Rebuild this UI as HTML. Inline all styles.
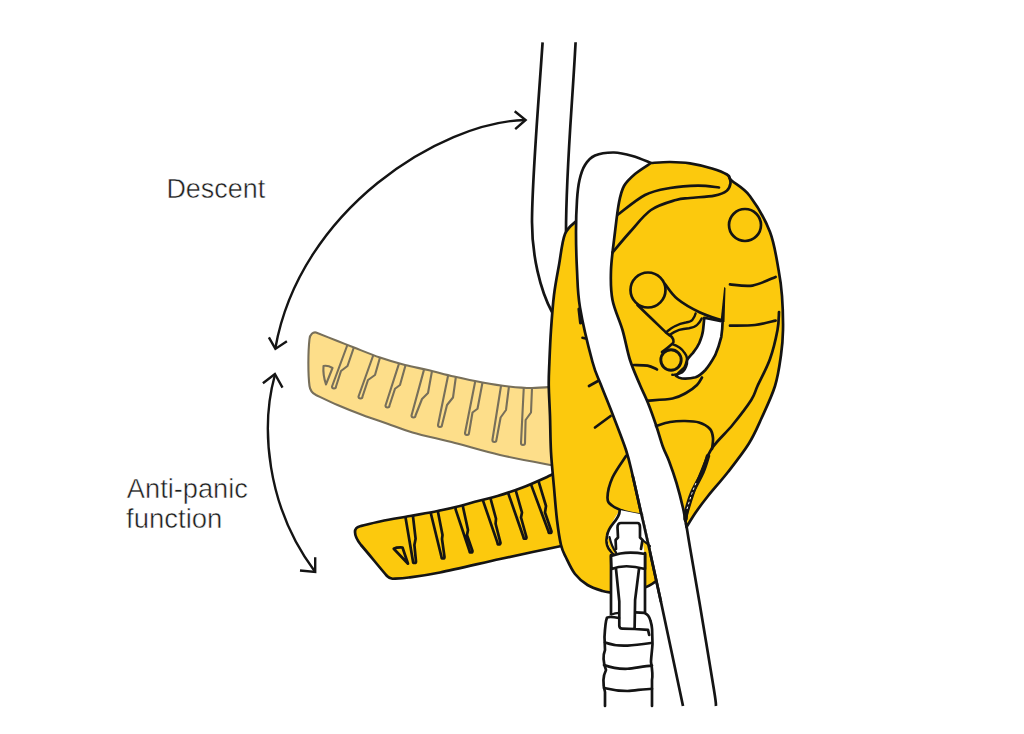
<!DOCTYPE html>
<html><head><meta charset="utf-8">
<style>
html,body{margin:0;padding:0;background:#fff;}
body{width:1024px;height:734px;overflow:hidden;position:relative;}
svg{position:absolute;left:0;top:0;}
.t{font-family:"Liberation Sans",sans-serif;font-size:28.4px;fill:#1e1e1e;stroke:#fff;stroke-width:0.5px;}
</style></head>
<body>
<svg width="1024" height="734" viewBox="0 0 1024 734">
<g fill="none" stroke="#141414" stroke-width="2.4" stroke-linecap="butt" stroke-linejoin="miter">
  <path d="M525,120 C440,122 300,210 275.4,348"/>
  <path d="M514.7,111.25 L525.6,120 L515.2,129.2"/>
  <path d="M268.9,337.4 L275.4,348.9 L286.9,341.25"/>
  <path d="M274.9,375 C261,425 265,505 315.2,572"/>
  <path d="M262.9,383.2 L274.9,374 L282.5,387.6"/>
  <path d="M300,570.5 L315.2,572 L315.2,557.25"/>
</g>
<text class="t" x="166.4" y="197.5" textLength="98.9" lengthAdjust="spacingAndGlyphs">Descent</text>
<text class="t" x="126.85" y="497.5" textLength="121.07" lengthAdjust="spacingAndGlyphs">Anti-panic</text>
<text class="t" x="126.1" y="527.5" textLength="96.3" lengthAdjust="spacingAndGlyphs">function</text>

<defs><clipPath id="cfh"><path d="M316,332.5 C319.58,333.92 331.17,338.5 337.5,341 C343.83,343.5 346.92,344.75 354,347.5 C361.08,350.25 371.5,354.58 380,357.5 C388.5,360.42 397,362.92 405,365 C413,367.08 419.83,368.08 428,370 C436.17,371.92 444.92,374.42 454,376.5 C463.08,378.58 473.38,380.83 482.5,382.5 C491.62,384.17 500.5,385.58 508.75,386.5 C517,387.42 524.12,388 532,388 C539.88,388 552,386.75 556,386.5 L556,466 C546.67,464.17 516.83,458.83 500,455 C483.17,451.17 469.58,446.75 455,443 C440.42,439.25 423.75,435.71 412.5,432.5 C401.25,429.29 395.83,426.67 387.5,423.75 C379.17,420.83 370.83,418.12 362.5,415 C354.17,411.88 345.25,408.33 337.5,405 C329.75,401.67 319.58,396.67 316,395 C312,393 310,390 309.5,386 C308,375 308,352 309.5,339 C310,334 313,332 316,332.5 Z"/></clipPath>
<clipPath id="cdh"><path id="dhp" d="M360,526.25 C363.5,525.42 372.67,522.96 381,521.25 C389.33,519.54 400.58,517.71 410,516 C419.42,514.29 429.17,512.67 437.5,511 C445.83,509.33 453.25,507.67 460,506 C466.75,504.33 471.75,502.67 478,501 C484.25,499.33 490.08,498.25 497.5,496 C504.92,493.75 513.75,490.9 522.5,487.5 C531.25,484.1 542.75,478.85 550,475.6 C557.25,472.35 563.33,469.27 566,468 L566,545 C561.25,546 548.5,548.67 537.5,551 C526.5,553.33 516.25,555.42 500,559 C483.75,562.58 455.21,569.42 440,572.5 C424.79,575.58 416.67,576.46 408.75,577.5 C400.83,578.54 395.21,578.54 392.5,578.75 C389,578 388,577 387,576 C380,568 368,553 361,545 C357,540 355,536 355,532 C355,529 357,527 360,526.25 Z"/></clipPath></defs>
<g fill="#fdde8a" stroke="#776f5a" stroke-width="2.1" stroke-linejoin="round" stroke-linecap="round">
  <path d="M316,332.5 C319.58,333.92 331.17,338.5 337.5,341 C343.83,343.5 346.92,344.75 354,347.5 C361.08,350.25 371.5,354.58 380,357.5 C388.5,360.42 397,362.92 405,365 C413,367.08 419.83,368.08 428,370 C436.17,371.92 444.92,374.42 454,376.5 C463.08,378.58 473.38,380.83 482.5,382.5 C491.62,384.17 500.5,385.58 508.75,386.5 C517,387.42 524.12,388 532,388 C539.88,388 552,386.75 556,386.5 L556,466 C546.67,464.17 516.83,458.83 500,455 C483.17,451.17 469.58,446.75 455,443 C440.42,439.25 423.75,435.71 412.5,432.5 C401.25,429.29 395.83,426.67 387.5,423.75 C379.17,420.83 370.83,418.12 362.5,415 C354.17,411.88 345.25,408.33 337.5,405 C329.75,401.67 319.58,396.67 316,395 C312,393 310,390 309.5,386 C308,375 308,352 309.5,339 C310,334 313,332 316,332.5 Z"/>
  <path fill="none" d="M323.5,366 C326,365.5 330,366.5 332.5,368 L326,384.4 C324.5,380 323,372 323.5,366 Z"/>
  <path fill="none" clip-path="url(#cfh)" d="M347,343 L347,346 L332,386.5 A2,2 0 0 0 336,386.5 L341,371 L347.5,366 L354,347 L354,344 M373,353 L373,356 L358.5,396.5 A2,2 0 0 0 362.5,396.5 L368,380 L375,375 L380,357.5 L380,354.5 M398.75,361.4 L398.75,364.4 L385.5,405.5 A2,2 0 0 0 389.5,405.5 L395,388.75 L400,385 L405.6,365 L405.6,362 M423.75,367.6 L423.75,370.6 L411.5,415.5 A2,2 0 0 0 415.5,415.5 L422,399 L428,393 L432,371 L432,368 M448,373 L448,376 L438,425 A2,2 0 0 0 442,425 L447,405 L453,397.5 L456,376 L456,373 M475,379.5 L475,382.5 L465,433 A2,2 0 0 0 469,433 L472.5,412.5 L477.5,408.75 L482.5,382.5 L482.5,379.5 M501,383 L501,386 L492.4,440 A2,2 0 0 0 496.4,440 L500.6,417.5 L506,410 L509,386 L509,383 M523.75,385 L523.75,388 L521,443 A2,2 0 0 0 525,443 L525.6,420 L531,412.5 L532,388 L532,385"/>
</g>

<g fill="#fcc90d" stroke="#141414" stroke-width="2.7" stroke-linejoin="round" stroke-linecap="round">
  <path d="M360,526.25 C363.5,525.42 372.67,522.96 381,521.25 C389.33,519.54 400.58,517.71 410,516 C419.42,514.29 429.17,512.67 437.5,511 C445.83,509.33 453.25,507.67 460,506 C466.75,504.33 471.75,502.67 478,501 C484.25,499.33 490.08,498.25 497.5,496 C504.92,493.75 513.75,490.9 522.5,487.5 C531.25,484.1 542.75,478.85 550,475.6 C557.25,472.35 563.33,469.27 566,468 L566,545 C561.25,546 548.5,548.67 537.5,551 C526.5,553.33 516.25,555.42 500,559 C483.75,562.58 455.21,569.42 440,572.5 C424.79,575.58 416.67,576.46 408.75,577.5 C400.83,578.54 395.21,578.54 392.5,578.75 C389,578 388,577 387,576 C380,568 368,553 361,545 C357,540 355,536 355,532 C355,529 357,527 360,526.25 Z"/>
  <path fill="none" d="M393.75,548.75 C396,547.5 399,547.3 402.5,547.5 L408,563.75 Z"/>
  <path fill="none" clip-path="url(#cdh)" d="M405.6,515 L405.6,518 L413.0,561.5 A1.5,1.5 0 0 0 416.0,561.5 L414.4,545 L415.6,538.75 L413,516.5 L413,513.5 M431,511 L431,514 L441.5,557.0 A1.5,1.5 0 0 0 444.5,557.0 L442,539 L442.5,535 L438,512 L438,509 M455.6,506.4 L455.6,509.4 L469.5,551.0 A1.5,1.5 0 0 0 472.5,551.0 L467,535 L468,530 L463,507 L463,504 M483,497.6 L483,500.6 L497.5,542.9 A1.5,1.5 0 0 0 500.5,542.9 L495.6,523.75 L496,518.75 L490.6,498.75 L490.6,495.75 M508,489.5 L508,492.5 L523.5,537.25 A1.5,1.5 0 0 0 526.5,537.25 L521,517.5 L522,512.5 L515.6,490 L515.6,487 M531,481.4 L531,484.4 L548.5,531.5 A1.5,1.5 0 0 0 551.5,531.5 L545,512.5 L546,506 L538.75,481.9 L538.75,478.9"/>
</g>

<g fill="none" stroke="#141414" stroke-width="2.7" stroke-linecap="butt">
  <path d="M542.6,42.3 C538,110 532,180 532,222 C532,255 540,290 552,312"/>
  <path d="M575.6,42.3 C572,110 566,170 566,233"/>
</g>

<path fill="#fcc90d" stroke="#141414" stroke-width="2.7" stroke-linejoin="round"
  d="M577,220.5 C575,222.75 568,226.58 565,234 C562,241.42 560.83,254.83 559,265 C557.17,275.17 555.33,284.17 554,295 C552.67,305.83 551.77,318.83 551,330 C550.23,341.17 549.77,352.83 549.4,362 C549.02,371.17 548.65,376 548.75,385 C548.85,394 549.62,404.83 550,416 C550.38,427.17 550.33,440.08 551,452 C551.67,463.92 553,476.17 554,487.5 C555,498.83 555.83,510.42 557,520 C558.17,529.58 559.5,538.75 561,545 C562.5,551.25 563.67,552.67 566,557.5 C568.33,562.33 571.42,569.42 575,574 C578.58,578.58 582.92,582.17 587.5,585 C592.08,587.83 598.58,589.75 602.5,591 C606.42,592.25 609.58,592.25 611,592.5 L645,587.5 C650,586 654,583 660,578 L700,520 L640,300 L600,200 Z"/>

<path fill="#fff" stroke="none" d="M683,706 C679.33,688.67 666.67,628.42 661,602 C655.33,575.58 652.33,562.42 649,547.5 C645.67,532.58 643.75,524.58 641,512.5 C638.25,500.42 635,485.42 632.5,475 C630,464.58 629.33,460.17 626,450 C622.67,439.83 616.67,424.83 612.5,414 C608.33,403.17 604.33,393.67 601,385 C597.67,376.33 596,374.92 592.5,362 C589,349.08 582.58,322.83 580,307.5 C577.42,292.17 577.67,282.58 577,270 C576.33,257.42 576,243.67 576,232 C576,220.33 576.42,208.67 577,200 C577.58,191.33 578.17,185.83 579.5,180 C580.83,174.17 582.42,169.08 585,165 C587.58,160.92 590.17,157.58 595,155.5 C599.83,153.42 607.75,152.42 614,152.5 C620.25,152.58 626.33,154.25 632.5,156 C638.67,157.75 647.92,161.83 651,163 L700,200 L716,706 Z"/>
<path fill="none" stroke="#141414" stroke-width="2.7" stroke-linecap="butt" d="M683,706 C679.33,688.67 666.67,628.42 661,602 C655.33,575.58 652.33,562.42 649,547.5 C645.67,532.58 643.75,524.58 641,512.5 C638.25,500.42 635,485.42 632.5,475 C630,464.58 629.33,460.17 626,450 C622.67,439.83 616.67,424.83 612.5,414 C608.33,403.17 604.33,393.67 601,385 C597.67,376.33 596,374.92 592.5,362 C589,349.08 582.58,322.83 580,307.5 C577.42,292.17 577.67,282.58 577,270 C576.33,257.42 576,243.67 576,232 C576,220.33 576.42,208.67 577,200 C577.58,191.33 578.17,185.83 579.5,180 C580.83,174.17 582.42,169.08 585,165 C587.58,160.92 590.17,157.58 595,155.5 C599.83,153.42 607.75,152.42 614,152.5 C620.25,152.58 626.33,154.25 632.5,156 C638.67,157.75 647.92,161.83 651,163"/>
<path fill="none" stroke="#141414" stroke-width="2.7" stroke-linecap="butt" d="M686,523 C686.67,527.08 687.77,534.33 690,547.5 C692.23,560.67 695.4,578.25 699.4,602 C703.4,625.75 711.23,672.67 714,690 C716.77,707.33 715.67,703.33 716,706"/>

<path fill="#fcc90d" stroke="#141414" stroke-width="2.7" stroke-linejoin="round" d="M651,163 C654.17,162.83 663.5,161.93 670,162 C676.5,162.07 683,162.32 690,163.4 C697,164.48 705.83,166.65 712,168.5 C718.17,170.35 723.75,172.5 727,174.5 C730.25,176.5 727.67,176.88 731.5,180.5 C735.33,184.12 743.58,187.62 750,196.2 C756.42,204.78 765.21,219.53 770,232 C774.79,244.47 776.75,260.33 778.75,271 C780.75,281.67 781.29,286.17 782,296 C782.71,305.83 783.17,320.17 783,330 C782.83,339.83 782.33,345.67 781,355 C779.67,364.33 778.29,375.38 775,386 C771.71,396.62 765.62,409.12 761.25,418.75 C756.88,428.38 754.29,434.88 748.75,443.75 C743.21,452.62 734.79,463.29 728,472 C721.21,480.71 713.33,489.33 708,496 C702.67,502.67 699.58,506.83 696,512 C692.42,517.17 688.08,524.5 686.5,527 C685.92,523.83 684.67,515.33 683,508 C681.33,500.67 678.83,490.83 676.5,483 C674.17,475.17 671.25,467 669,461 C666.75,455 665.17,453 663,447 C660.83,441 658.5,432.33 656,425 C653.5,417.67 650.67,409.67 648,403 C645.33,396.33 643,392.17 640,385 C637,377.83 632.92,369.17 630,360 C627.08,350.83 625.42,340 622.5,330 C619.58,320 614.42,310 612.5,300 C610.58,290 610.58,281.33 611,270 C611.42,258.67 613.67,243.25 615,232 C616.33,220.75 617.5,210.17 619,202.5 C620.5,194.83 621.33,190.75 624,186 C626.67,181.25 630.5,177.83 635,174 C639.5,170.17 648.33,164.83 651,163 Z"/>

<g fill="none" stroke="#141414" stroke-width="2.7" stroke-linecap="round" stroke-linejoin="round">
<path d="M617.5,215 C622.08,211.67 636.25,199.5 645,195 C653.75,190.5 661.17,189.57 670,188 C678.83,186.43 689.83,185.68 698,185.6 C706.17,185.52 715.5,187.18 719,187.5"/>
<path d="M612.5,252.5 C615.42,249.08 623.58,239.08 630,232 C636.42,224.92 643.33,215.33 651,210 C658.67,204.67 669.5,202 676,200 C682.5,198 683.58,198.73 690,198 C696.42,197.27 708.37,196.82 714.5,195.6 C720.63,194.38 724.13,192.75 726.8,190.7 C729.47,188.65 730.13,185.75 730.5,183.3 C730.87,180.85 729.25,177.22 729,176"/>
<circle cx="745" cy="225" r="16"/>
<circle cx="648" cy="290" r="17.5"/>
<path d="M637.5,305 C639.92,307.33 647.25,314.42 652,319 C656.75,323.58 662.68,329.47 666,332.5 C669.32,335.53 670.65,335.62 671.9,337.2 C673.15,338.78 673.92,340.5 673.5,342 C673.08,343.5 671.32,344.53 669.4,346.2 C667.48,347.87 663.23,351.03 662,352"/>
<path d="M665,284 C667.08,286.5 671.67,294.25 677.5,299 C683.33,303.75 692.75,309 700,312.5 C707.25,316 717.5,318.75 721,320"/>
<path d="M730,284.4 C733.75,284.6 744.9,286.85 752.5,285.6 C760.1,284.35 771.75,278.35 775.6,276.9"/>
<path d="M730,325.6 C734.17,325.5 747.4,325.83 755,325 C762.6,324.17 772.17,321.33 775.6,320.6"/>
<path d="M779,312 C778.75,315 779,322.17 777.5,330 C776,337.83 773.33,349.67 770,359 C766.67,368.33 760.62,379.17 757.5,386 C754.38,392.83 755.42,393.5 751.25,400 C747.08,406.5 738.96,417.08 732.5,425 C726.04,432.92 717.5,440.21 712.5,447.5 C707.5,454.79 705.62,461.33 702.5,468.75 C699.38,476.17 696.25,484.79 693.75,492 C691.25,499.21 688.88,507.17 687.5,512 C686.12,516.83 685.83,519.5 685.5,521"/>
<path d="M634,365 C636.25,365.1 643.67,364.87 647.5,365.6 C651.33,366.33 655.42,368.77 657,369.4"/>
<path d="M647.5,400.6 C651.67,400.25 666.08,399.77 672.5,398.5 C678.92,397.23 681.92,395.25 686,393 C690.08,390.75 694.33,387.58 697,385 C699.67,382.42 701.17,378.75 702,377.5"/>
<path d="M656,426 C658.33,425.33 665.17,422.83 670,422 C674.83,421.17 680.17,420.92 685,421 C689.83,421.08 694.83,421.17 699,422.5 C703.17,423.83 707.67,426.42 710,429 C712.33,431.58 712.67,434.67 713,438 C713.33,441.33 712.17,447.17 712,449"/>
<path d="M589,386 L598,381"/>
<path d="M579,309 L580.6,323" stroke-width="3.2"/>
<path d="M582.5,337.8 L585.5,338.5"/>
<path d="M595,427.5 L610.6,416"/>
<path d="M626,456 C623.75,459.58 615.58,470.58 612.5,477.5 C609.42,484.42 607.58,492.83 607.5,497.5 C607.42,502.17 609.08,503.17 612,505.5 C614.92,507.83 620,509.92 625,511.5 C630,513.08 639.17,514.42 642,515"/>
</g>

<path fill="none" stroke="#141414" stroke-width="4.4" stroke-linecap="round" d="M708,456 C707.12,458.63 705.4,465.53 702.7,471.8 C700,478.07 694.52,487.07 691.8,493.6 C689.08,500.13 687.45,506.77 686.4,511 C685.35,515.23 685.65,517.67 685.5,519"/>
<path fill="none" stroke="#fff" stroke-width="1" stroke-dasharray="2.5 2.5" d="M696,483 C695.3,484.77 693.3,489.27 691.8,493.6 C690.3,497.93 687.8,506.43 687,509"/>

<path fill="#141414" stroke="none" d="M724.2,287 L725.5,288 L724.5,322 L720.5,322 Z"/>
<path fill="#fff" stroke="#141414" stroke-width="2.7" stroke-linejoin="round" d="M704.2,317.8 L722.6,321.5 C722.5,327 722,332 721.3,336.8 C719.5,344 717.5,350 715.2,355.2 C712,361 709,366 705.4,370 C702,373.5 699,376 695.6,377.3 C691,378.5 686,378.8 682,378.5 C679.5,378 677.5,377 676,376 C679,372 682,370 684.5,367.5 C686,365 686.5,362 687,360 C689,357 691,355 693,352.8 C696,349 698,346 699.3,343 C701,339 702.5,335 703,330.7 C703.5,326 704,322 704.2,317.8 Z"/>
<circle cx="671" cy="360" r="10.2" fill="#fcc90d" stroke="#141414" stroke-width="2.9"/>
<g fill="none" stroke="#141414" stroke-width="2.4" stroke-linecap="round">
  <path d="M672.3,344.2 C678,346 682,349 684.5,352.8 C687,356 687.5,360 687,363.8 C686,368 684,371 682,372.4 C679,374 675.5,375 672.3,374.8"/>
  <path d="M666.2,332.3 C669,330 671,328 674.3,326.5 C678,324.5 682,323 685.8,322.5 C689,322 691,321.5 692.3,320 C694,318 695,316 695.6,313.5"/>
  <path d="M669.4,335 C673,332.5 676,330.8 679.2,329.8 C683,328.8 686,328.5 689,328.2 C692,327.8 695,327 697,325 C699,323 700.5,321 701.7,318.4"/>
</g>

<g stroke="#141414" stroke-width="2.7" stroke-linejoin="round" stroke-linecap="round">
  <path fill="#fff" stroke="none" d="M619.7,510 C615,518 609,526 607,535 C605.5,542 607,548 613,553.5 L645,553 L650,546 L642.5,514.5 Z"/>
  <path fill="none" d="M619.7,510.5 C619.8,514 617,519 613,523.7 C609.5,528 607.7,531 607,536 C606,541 606.5,545 608.5,548.4 C610,550.5 611.5,552 613,553.5"/>
  <path fill="#fcc90d" stroke="none" d="M607.5,540 C608,545 610.5,549.5 613.5,553 L616,552.5 C613.5,548 611.5,544 609.5,537 Z M642.5,540 C645,542 647.5,544 649.5,545.5 L651,552 L644.5,553 Z"/>
  <path fill="none" stroke-width="2.2" d="M609.5,537 C611,544 613,548.5 616,552.5 M642.5,540 C645,542 647.5,544 650,546"/>
  <path fill="#fff" d="M616,549 L615.6,540 L618,537.5 L617.5,527.5 C617.5,524 619,523 621,523 L637.5,523 C639.5,523 640,525 640,527.5 L640,537.5 L642.5,540 L641,549"/>
  <path fill="#fff" stroke="none" d="M611,555 L611,616 L645,612.5 L645,553 Z"/>
  <path fill="none" d="M611,555 L611,617 M645,553 L645,612.5"/>
  <path fill="#fff" d="M611,556 C620,552.5 632,551.5 645,554 L645,569 C632,565.5 620,565.5 611.5,569 Z"/>
  <path fill="#fff" stroke="none" d="M605,706 L605,692 C603,685 603,676 606,670 C603,662 603,655 605,650 L604.5,637 C605,628 605.5,621 607,617.6 L611,615 L619,612.9 L644.5,612.9 C647.5,614 649.5,617 650.4,620.5 C651.5,624 652,627 652.1,629.3 L652.5,644 C652,652 651,658 651,662 C652,668 653,675 652,680 L652,706 Z"/>
  <path fill="none" d="M605,706 L605,692 C603,685 603,676 606,670 C603,662 603,655 605,650 L604.5,637 C605,628 605.5,621 607,617.6 C609,616.5 614,617 619,618"/>
  <path fill="none" stroke-width="2.2" d="M611.5,614.6 C614,613.5 616,613 619,612.9"/>
  <path fill="none" d="M635.5,612.3 L644.5,612.9 C647.5,614 649.5,617 650.4,620.5 C651.5,624 652,627 652.1,629.3 L652.5,644 C652,652 651,658 651,662 C652,668 653,675 652,680 L652,706"/>
  <path fill="none" d="M616,569 L619.3,601.5 L619.3,625.8 C619.5,628 620.5,628.7 622.3,628.7 L634.6,629 L648,629.9 L649.2,635 M634.6,628 L635.1,600 L639,569"/>
  <path fill="none" d="M605,642.5 C612,645 620,646 627.5,645.6 C635,645 643,644 651,643"/>
  <path fill="none" d="M604,665 C612,668 620,669 627.5,668.75 C635,668 645,666 652,665.6"/>
  <path fill="none" d="M604,688 C612,690 620,691 627.5,691 C635,690.5 645,689 652,688.75"/>
</g>

<path fill="none" stroke="#141414" stroke-width="2.7" d="M632.5,475 C633.92,481.25 638.25,500.42 641,512.5 C643.75,524.58 645.67,532.58 649,547.5 C652.33,562.42 659,592.92 661,602"/>
</svg>
</body></html>
